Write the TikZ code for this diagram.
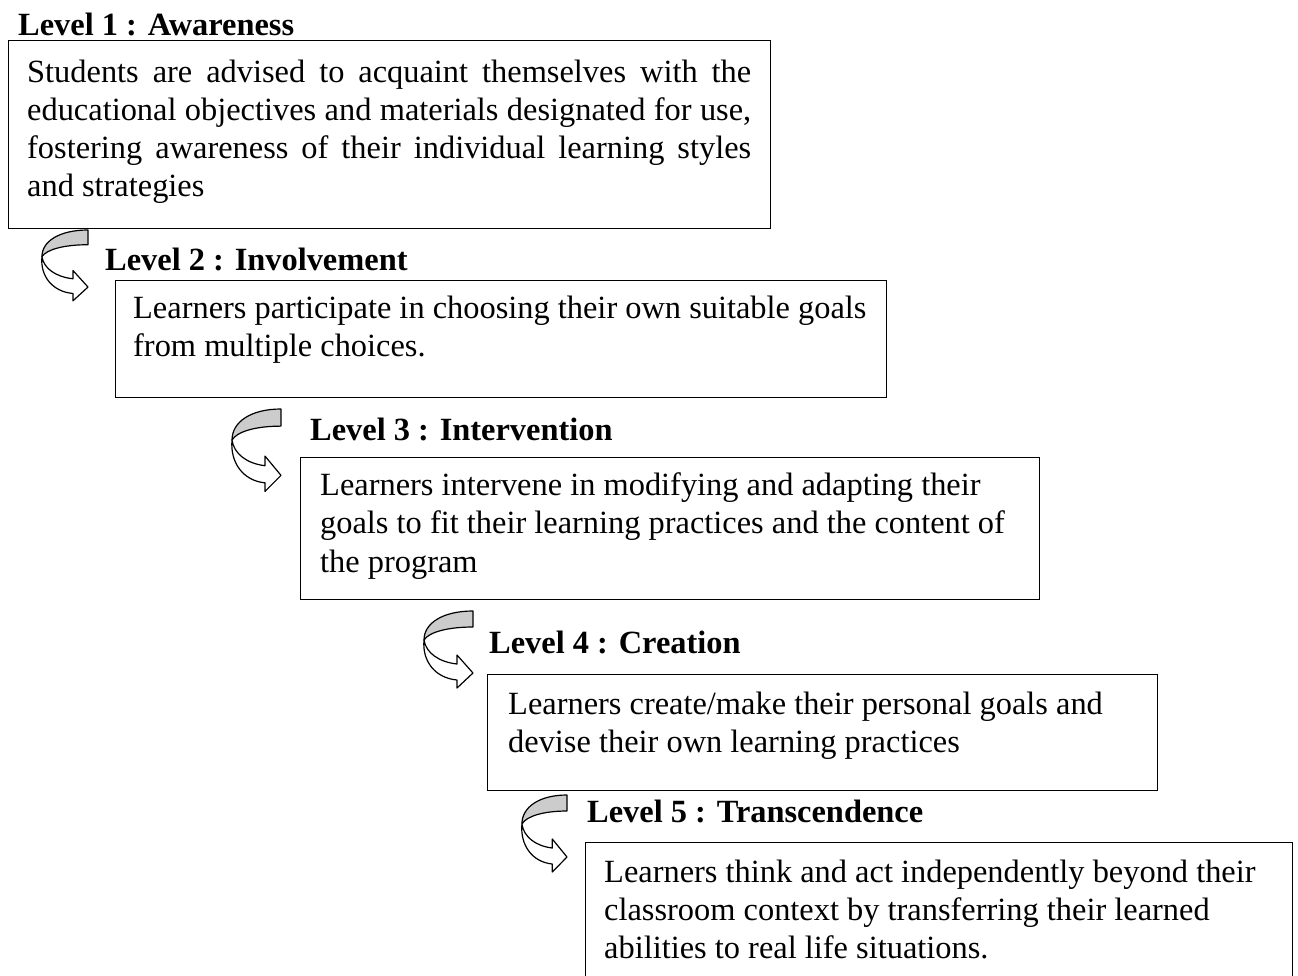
\documentclass[tikz,border=0pt]{standalone}
\usepackage{fontspec}
\setmainfont{Liberation Serif}
\newcommand\bodyfont{\fontsize{32.4pt}{38.3pt}\selectfont}
\tikzset{
  head/.style={font=\bodyfont\bfseries, inner sep=0pt, anchor=base west},
  body/.style={font=\bodyfont, inner sep=0pt, anchor=base west, align=left},
  box/.style={draw, line width=1.4pt, anchor=north west, inner sep=0pt},
  uarrow/.pic={
    \draw[fill=gray!40, line width=1.2pt, line join=round]
      (0,0) .. controls (-30,0) and (-49,12) .. (-49,29)
      .. controls (-44,21) and (-25,16) .. (0,16) -- cycle;
    \draw[fill=white, line width=1.2pt, line join=round]
      (-49,29) .. controls (-47,42) and (-34,51) .. (-16,53)
      -- (-16,44) -- (0,62) -- (-16,77) -- (-16,69)
      .. controls (-38,67) and (-51,50) .. (-49,29) -- cycle;
  }
}
\begin{document}
\begin{tikzpicture}[x=1pt,y=-1pt]
\clip (0,0) rectangle (1298,975);
% boxes
\node[box, minimum width=762, minimum height=188] (b1) at (8,40) {};
\node[box, minimum width=771, minimum height=117] (b2) at (115,280) {};
\node[box, minimum width=739, minimum height=142] (b3) at (300,457) {};
\node[box, minimum width=670, minimum height=116] (b4) at (487,674) {};
\node[box, minimum width=707, minimum height=160] (b5) at (585,842) {};
% headings
\node[head] (h1) at (18,35) {Level 1 : Awareness};
\node[head] (h2) at (105,270) {Level 2 : Involvement};
\node[head] (h3) at (310,440) {Level 3 : Intervention};
\node[head] (h4) at (489,653) {Level 4 : Creation};
\node[head] (h5) at (587,822) {Level 5 : Transcendence};
% texts (anchor = baseline of the last line)
\node[body] (t1) at (27,196.9) {\makebox[724pt][s]{Students are advised to acquaint themselves with the}\\
\makebox[724pt][s]{educational objectives and materials designated for use,}\\
\makebox[724pt][s]{fostering awareness of their individual learning styles}\\
and strategies};
\node[body] (t2) at (133,356.3) {Learners participate in choosing their own suitable goals\\from multiple choices.};
\node[body] (t3) at (320,572) {Learners intervene in modifying and adapting their\\goals to fit their learning practices and the content of\\the program};
\node[body] (t4) at (508,752.3) {Learners create/make their personal goals and\\devise their own learning practices};
\node[body] (t5) at (604,958.6) {Learners think and act independently beyond their\\classroom context by transferring their learned\\abilities to real life situations.};
% curved arrows
\pic[xscale=0.94, yscale=0.92] at (88,230) {uarrow};
\pic[yscale=1.07] at (281,409) {uarrow};
\pic at (473,611) {uarrow};
\pic[xscale=0.92] at (567,795) {uarrow};
\end{tikzpicture}
\end{document}
